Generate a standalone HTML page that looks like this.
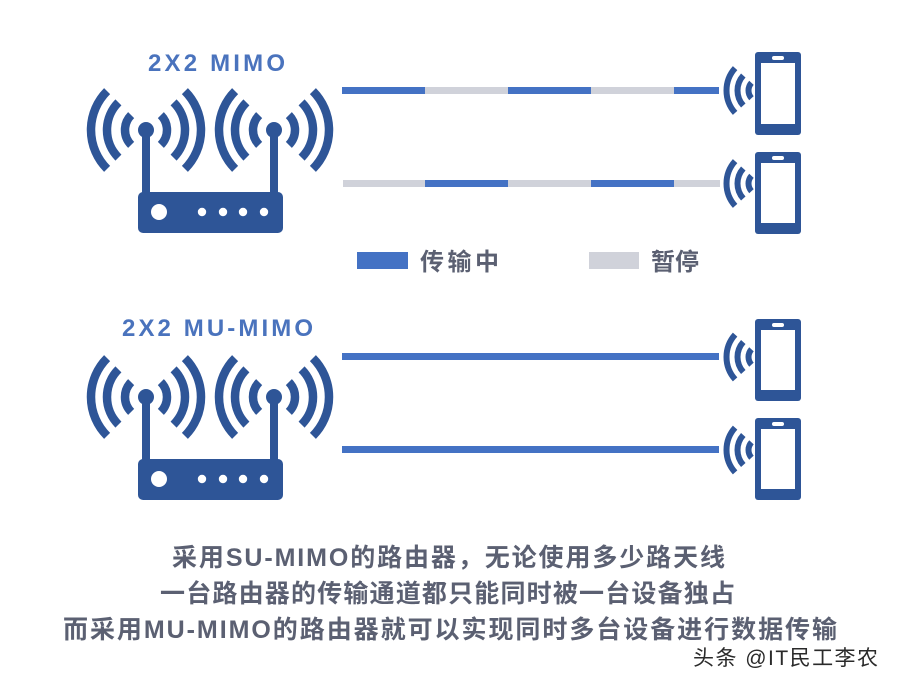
<!DOCTYPE html>
<html>
<head>
<meta charset="utf-8">
<style>
  html,body{margin:0;padding:0;background:#ffffff;}
  svg{display:block;}
</style>
</head>
<body>
<svg width="900" height="689" viewBox="0 0 900 689" xmlns="http://www.w3.org/2000/svg">
  <rect x="0" y="0" width="900" height="689" fill="#ffffff"/>

  <!-- ===== TOP ROUTER (2X2 MIMO) ===== -->
  <text x="148" y="71" font-family="Liberation Sans, sans-serif" font-weight="bold" font-size="24" fill="#4a73bd" textLength="137" lengthAdjust="spacing">2X2 MIMO</text>

  <g fill="none" stroke="#2e5597" stroke-width="8.5">
    <g transform="translate(146,130)">
      <path d="M -14.85,-14.85 A 21 21 0 0 0 -14.85,14.85"/>
      <path d="M -27.58,-27.58 A 39 39 0 0 0 -27.58,27.58"/>
      <path d="M -38.89,-38.89 A 55 55 0 0 0 -38.89,38.89"/>
      <path d="M 14.85,-14.85 A 21 21 0 0 1 14.85,14.85"/>
      <path d="M 27.58,-27.58 A 39 39 0 0 1 27.58,27.58"/>
      <path d="M 38.89,-38.89 A 55 55 0 0 1 38.89,38.89"/>
    </g>
    <g transform="translate(274,130)">
      <path d="M -14.85,-14.85 A 21 21 0 0 0 -14.85,14.85"/>
      <path d="M -27.58,-27.58 A 39 39 0 0 0 -27.58,27.58"/>
      <path d="M -38.89,-38.89 A 55 55 0 0 0 -38.89,38.89"/>
      <path d="M 14.85,-14.85 A 21 21 0 0 1 14.85,14.85"/>
      <path d="M 27.58,-27.58 A 39 39 0 0 1 27.58,27.58"/>
      <path d="M 38.89,-38.89 A 55 55 0 0 1 38.89,38.89"/>
    </g>
  </g>
  <g fill="#2e5597">
    <circle cx="146" cy="130" r="8"/>
    <circle cx="274" cy="130" r="8"/>
    <rect x="142" y="130" width="8" height="66"/>
    <rect x="270" y="130" width="8" height="66"/>
    <rect x="138" y="192" width="145" height="41" rx="5" ry="5"/>
  </g>
  <g fill="#ffffff">
    <circle cx="159" cy="212" r="8"/>
    <circle cx="202" cy="212" r="4.2"/>
    <circle cx="223" cy="212" r="4.2"/>
    <circle cx="243" cy="212" r="4.2"/>
    <circle cx="264" cy="212" r="4.2"/>
  </g>

  <!-- ===== BOTTOM ROUTER (2X2 MU-MIMO) ===== -->
  <text x="122" y="336" font-family="Liberation Sans, sans-serif" font-weight="bold" font-size="24" fill="#4a73bd" textLength="191" lengthAdjust="spacing">2X2 MU-MIMO</text>

  <g transform="translate(0,267)">
    <g fill="none" stroke="#2e5597" stroke-width="8.5">
      <g transform="translate(146,130)">
        <path d="M -14.85,-14.85 A 21 21 0 0 0 -14.85,14.85"/>
        <path d="M -27.58,-27.58 A 39 39 0 0 0 -27.58,27.58"/>
        <path d="M -38.89,-38.89 A 55 55 0 0 0 -38.89,38.89"/>
        <path d="M 14.85,-14.85 A 21 21 0 0 1 14.85,14.85"/>
        <path d="M 27.58,-27.58 A 39 39 0 0 1 27.58,27.58"/>
        <path d="M 38.89,-38.89 A 55 55 0 0 1 38.89,38.89"/>
      </g>
      <g transform="translate(274,130)">
        <path d="M -14.85,-14.85 A 21 21 0 0 0 -14.85,14.85"/>
        <path d="M -27.58,-27.58 A 39 39 0 0 0 -27.58,27.58"/>
        <path d="M -38.89,-38.89 A 55 55 0 0 0 -38.89,38.89"/>
        <path d="M 14.85,-14.85 A 21 21 0 0 1 14.85,14.85"/>
        <path d="M 27.58,-27.58 A 39 39 0 0 1 27.58,27.58"/>
        <path d="M 38.89,-38.89 A 55 55 0 0 1 38.89,38.89"/>
      </g>
    </g>
    <g fill="#2e5597">
      <circle cx="146" cy="130" r="8"/>
      <circle cx="274" cy="130" r="8"/>
      <rect x="142" y="130" width="8" height="66"/>
      <rect x="270" y="130" width="8" height="66"/>
      <rect x="138" y="192" width="145" height="41" rx="5" ry="5"/>
    </g>
    <g fill="#ffffff">
      <circle cx="159" cy="212" r="8"/>
      <circle cx="202" cy="212" r="4.2"/>
      <circle cx="223" cy="212" r="4.2"/>
      <circle cx="243" cy="212" r="4.2"/>
      <circle cx="264" cy="212" r="4.2"/>
    </g>
  </g>

  <!-- ===== LINES ===== -->
  <rect x="342" y="87" width="83" height="7" fill="#4472c4"/>
  <rect x="425" y="87" width="83" height="7" fill="#d0d2da"/>
  <rect x="508" y="87" width="83" height="7" fill="#4472c4"/>
  <rect x="591" y="87" width="83" height="7" fill="#d0d2da"/>
  <rect x="674" y="87" width="45" height="7" fill="#4472c4"/>

  <rect x="343" y="180" width="82" height="7" fill="#d0d2da"/>
  <rect x="425" y="180" width="83" height="7" fill="#4472c4"/>
  <rect x="508" y="180" width="83" height="7" fill="#d0d2da"/>
  <rect x="591" y="180" width="83" height="7" fill="#4472c4"/>
  <rect x="674" y="180" width="46" height="7" fill="#d0d2da"/>

  <rect x="342" y="353" width="377" height="7" fill="#4472c4"/>
  <rect x="342" y="446" width="377" height="7" fill="#4472c4"/>

  <!-- ===== LEGEND ===== -->
  <rect x="357" y="252" width="51" height="17" fill="#4472c4"/>
  <text x="420" y="270" font-family="Liberation Sans, Noto Sans CJK SC, sans-serif" font-weight="bold" font-size="24" fill="#5b6072" textLength="79" lengthAdjust="spacing">传输中</text>
  <rect x="589" y="252" width="50" height="17" fill="#d0d2da"/>
  <text x="651" y="270" font-family="Liberation Sans, Noto Sans CJK SC, sans-serif" font-weight="bold" font-size="24" fill="#5b6072" textLength="48" lengthAdjust="spacing">暂停</text>

  <!-- ===== PHONES ===== -->
  <g>
    <g fill="none" stroke="#2e5597" stroke-width="6" transform="translate(760,90.5)">
      <path d="M -8.54,-7.69 A 11.5 11.5 0 0 0 -8.54,7.69"/>
      <path d="M -16.72,-15.05 A 22.5 22.5 0 0 0 -16.72,15.05"/>
      <path d="M -24.9,-22.4 A 33.5 33.5 0 0 0 -24.9,22.4"/>
    </g>
    <rect x="755" y="52" width="46" height="83" rx="3" fill="#2e5597"/>
    <rect x="761" y="63" width="34" height="61" fill="#ffffff"/>
    <rect x="772" y="56" width="12" height="4" rx="2" fill="#ffffff"/>
  </g>
  <g>
    <g fill="none" stroke="#2e5597" stroke-width="6" transform="translate(760,183.5)">
      <path d="M -8.54,-7.69 A 11.5 11.5 0 0 0 -8.54,7.69"/>
      <path d="M -16.72,-15.05 A 22.5 22.5 0 0 0 -16.72,15.05"/>
      <path d="M -24.9,-22.4 A 33.5 33.5 0 0 0 -24.9,22.4"/>
    </g>
    <rect x="755" y="152" width="46" height="82" rx="3" fill="#2e5597"/>
    <rect x="761" y="163" width="34" height="60" fill="#ffffff"/>
    <rect x="772" y="156" width="12" height="4" rx="2" fill="#ffffff"/>
  </g>
  <g>
    <g fill="none" stroke="#2e5597" stroke-width="6" transform="translate(760,357)">
      <path d="M -8.54,-7.69 A 11.5 11.5 0 0 0 -8.54,7.69"/>
      <path d="M -16.72,-15.05 A 22.5 22.5 0 0 0 -16.72,15.05"/>
      <path d="M -24.9,-22.4 A 33.5 33.5 0 0 0 -24.9,22.4"/>
    </g>
    <rect x="755" y="319" width="46" height="82" rx="3" fill="#2e5597"/>
    <rect x="761" y="330" width="34" height="60" fill="#ffffff"/>
    <rect x="772" y="323" width="12" height="4" rx="2" fill="#ffffff"/>
  </g>
  <g>
    <g fill="none" stroke="#2e5597" stroke-width="6" transform="translate(760,450)">
      <path d="M -8.54,-7.69 A 11.5 11.5 0 0 0 -8.54,7.69"/>
      <path d="M -16.72,-15.05 A 22.5 22.5 0 0 0 -16.72,15.05"/>
      <path d="M -24.9,-22.4 A 33.5 33.5 0 0 0 -24.9,22.4"/>
    </g>
    <rect x="755" y="418" width="46" height="82" rx="3" fill="#2e5597"/>
    <rect x="761" y="429" width="34" height="60" fill="#ffffff"/>
    <rect x="772" y="422" width="12" height="4" rx="2" fill="#ffffff"/>
  </g>

  <!-- ===== BOTTOM TEXT ===== -->
  <g font-family="Liberation Sans, Noto Sans CJK SC, sans-serif" font-weight="bold" font-size="25" fill="#5b6072">
    <text x="172" y="566" textLength="553" lengthAdjust="spacing">采用SU-MIMO的路由器，无论使用多少路天线</text>
    <text x="160" y="602" textLength="575" lengthAdjust="spacing">一台路由器的传输通道都只能同时被一台设备独占</text>
    <text x="63" y="638" textLength="774" lengthAdjust="spacing">而采用MU-MIMO的路由器就可以实现同时多台设备进行数据传输</text>
  </g>

  <!-- ===== WATERMARK ===== -->
  <text x="693" y="665" font-family="Liberation Sans, Noto Sans CJK SC, sans-serif" font-size="21" fill="#2a2a2a" stroke="#ffffff" stroke-width="0.6" paint-order="stroke" textLength="185" lengthAdjust="spacing">头条 @IT民工李农</text>
</svg>
</body>
</html>
